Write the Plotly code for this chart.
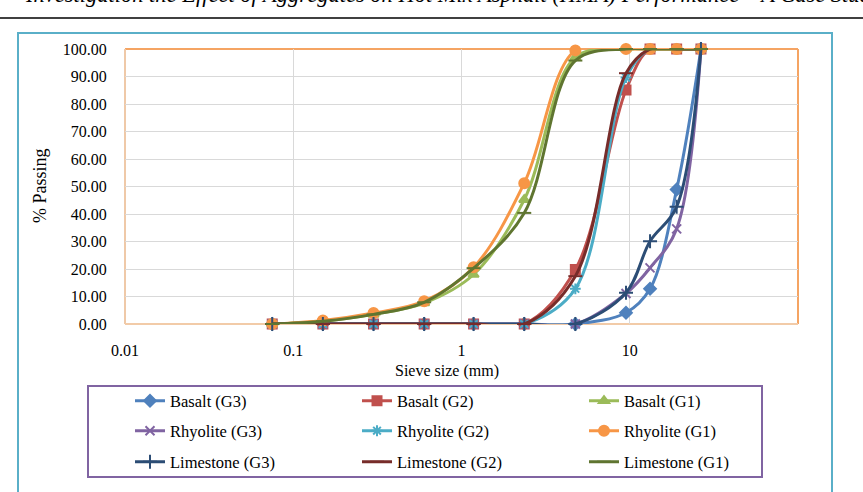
import plotly.graph_objects as go

sieve = [0.075, 0.15, 0.3, 0.6, 1.18, 2.36, 4.75, 9.5, 13.2, 19, 26.5]

basalt_g3 = [0, 0, 0, 0, 0, 0, 0, 4.1, 12.8, 48.9, 100]
basalt_g2 = [0, 0, 0, 0, 0, 0, 19.8, 85.1, 100, 100, 100]
basalt_g1 = [0, 1.0, 3.5, 7.6, 18.0, 45.2, 97.0, 100, 100, 100, 100]
rhyolite_g3 = [0, 0, 0, 0, 0, 0, 0, 11.1, 20.4, 34.6, 100]
rhyolite_g2 = [0, 0, 0, 0, 0, 0, 12.8, 89.6, 100, 100, 100]
rhyolite_g1 = [0, 1.3, 4.0, 8.3, 20.6, 51.2, 99.5, 100, 100, 100, 100]
limestone_g3 = [0, 0, 0, 0, 0, 0, 0, 11.4, 30.1, 42.6, 100]
limestone_g2 = [0, 0, 0, 0, 0, 0, 17.4, 91.2, 100, 100, 100]
limestone_g1 = [0, 1.0, 3.5, 7.9, 20.3, 40.4, 95.8, 100, 100, 100, 100]

names = ["Basalt (G3)", "Basalt (G2)", "Basalt (G1)",
         "Rhyolite (G3)", "Rhyolite (G2)", "Rhyolite (G1)",
         "Limestone (G3)", "Limestone (G2)", "Limestone (G1)"]
series = [basalt_g3, basalt_g2, basalt_g1, rhyolite_g3, rhyolite_g2, rhyolite_g1,
          limestone_g3, limestone_g2, limestone_g1]
colors = ["#4F81BD", "#C0504D", "#9BBB59", "#8064A2", "#4BACC6", "#F79646",
          "#2C4D75", "#772C2A", "#5F7530"]
symbols = ["diamond", "square", "triangle-up", "x-thin-open", "asterisk-open", "circle",
           "cross-thin-open", "line-ew-open", "line-ew-open"]
sizes = [9, 9, 9, 9, 9, 10, 10, 10, 10]
legends = ["legend", "legend", "legend", "legend2", "legend2", "legend2",
           "legend3", "legend3", "legend3"]

W, H = 863, 492
def px(x):
    return x / W
def py(y):
    return 1 - y / H

fig = go.Figure()
for nm, ys, c, s, sz, lg in zip(names, series, colors, symbols, sizes, legends):
    fig.add_trace(go.Scatter(
        x=sieve, y=ys, name=nm, mode="lines+markers",
        line=dict(color=c, width=3, shape="spline", smoothing=1),
        marker=dict(symbol=s, size=sz, color=c, line=dict(color=c, width=2)),
        cliponaxis=False, legend=lg,
    ))

serif = "Liberation Serif"
leg_common = dict(orientation="h", x=px(130), xanchor="left", yanchor="middle",
                  entrywidth=182, entrywidthmode="pixels", bgcolor="rgba(0,0,0,0)",
                  borderwidth=0, font=dict(family=serif, size=16.5, color="#000"),
                  traceorder="normal")

shapes = [
    dict(type="line", xref="paper", yref="paper", x0=0, x1=1, y0=py(18), y1=py(18),
         line=dict(color="#000", width=1.5)),
    dict(type="rect", xref="paper", yref="paper", x0=px(18), x1=px(832), y0=py(33), y1=py(520),
         line=dict(color="#5AAFC8", width=2)),
    dict(type="rect", xref="paper", yref="paper", x0=px(88), x1=px(762), y0=py(386), y1=py(477),
         line=dict(color="#8064A2", width=2)),
    dict(type="line", xref="paper", yref="paper", x0=px(125), x1=px(798), y0=py(49), y1=py(49),
         line=dict(color="#F5A463", width=2), layer="between"),
    dict(type="line", xref="paper", yref="paper", x0=px(798), x1=px(798), y0=py(49), y1=py(324),
         line=dict(color="#F5A463", width=2), layer="between"),
    dict(type="line", xref="paper", yref="paper", x0=px(125), x1=px(125), y0=py(49), y1=py(324),
         line=dict(color="#EFC9A8", width=2), layer="between"),
    dict(type="line", xref="paper", yref="paper", x0=px(125), x1=px(798), y0=py(324), y1=py(324),
         line=dict(color="#F2CBA8", width=2), layer="between"),
]

annotations = [
    dict(text="<i>Investigation the Effect of Aggregates on Hot Mix Asphalt (HMA) Performance \u2013 A Case Study</i>",
         xref="paper", yref="paper", x=px(23), y=py(-5.5), xanchor="left", yanchor="middle",
         showarrow=False, font=dict(family=serif, size=22.5, color="#000")),
    dict(text="Sieve size (mm)", xref="paper", yref="paper", x=px(447), y=py(371),
         xanchor="center", yanchor="middle", showarrow=False,
         font=dict(family=serif, size=16, color="#000")),
    dict(text="% Passing", xref="paper", yref="paper", x=px(40), y=py(186), textangle=-90,
         xanchor="center", yanchor="middle", showarrow=False,
         font=dict(family=serif, size=18, color="#000")),
]

fig.update_layout(
    width=W, height=H,
    margin=dict(l=0, r=0, t=0, b=0, autoexpand=False),
    paper_bgcolor="white", plot_bgcolor="white",
    showlegend=True,
    legend=dict(leg_common, y=py(401)),
    legend2=dict(leg_common, y=py(431)),
    legend3=dict(leg_common, y=py(462)),
    shapes=shapes,
    annotations=annotations,
    xaxis=dict(type="log", range=[-2, 2], domain=[px(125), px(798)], automargin=False,
               tickvals=[0.01, 0.1, 1, 10], ticktext=["0.01", "0.1", "1", "10"],
               showgrid=True, gridcolor="#D9D9D9", gridwidth=1,
               zeroline=False, showline=False,
               ticks="outside", ticklen=12, tickcolor="rgba(0,0,0,0)",
               tickfont=dict(family=serif, size=16, color="#000")),
    yaxis=dict(range=[0, 100], domain=[py(324), py(49)], automargin=False,
               tickvals=list(range(0, 101, 10)),
               ticktext=[f"{v:.2f}" for v in range(0, 101, 10)],
               showgrid=True, gridcolor="#D9D9D9", gridwidth=1,
               zeroline=False, showline=False,
               ticks="outside", ticklen=14, tickcolor="rgba(0,0,0,0)",
               tickfont=dict(family=serif, size=16, color="#000")),
)

fig.write_html("out.html")
